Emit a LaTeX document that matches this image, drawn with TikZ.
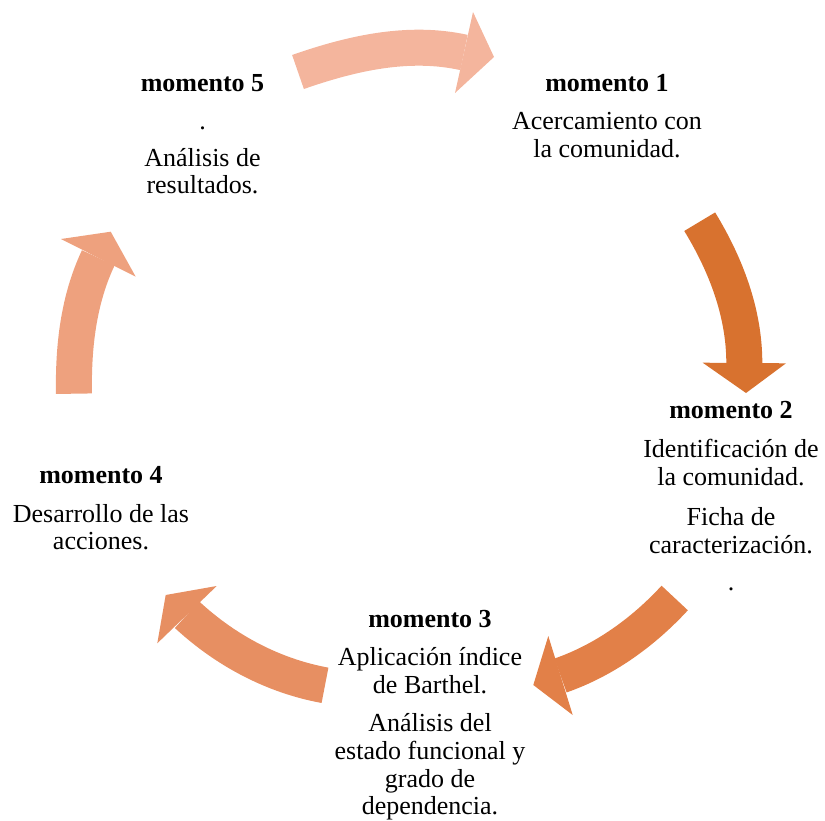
\documentclass[tikz,border=0pt]{standalone}
\usepackage{fontspec}
\setmainfont{Liberation Serif}
\definecolor{cA}{HTML}{F4B59D}
\definecolor{cB}{HTML}{D8722F}
\definecolor{cC}{HTML}{E28048}
\definecolor{cD}{HTML}{E78F62}
\definecolor{cE}{HTML}{EEA17E}
\tikzset{
  txt/.style={anchor=base,inner sep=0pt,font=\fontsize{26}{28}\selectfont},
  ttl/.style={txt,font=\fontsize{26}{28}\selectfont\bfseries},
  shaft/.style={line width=36pt,line cap=butt},
  arrhead/.style={draw=none}
}
\begin{document}
\begin{tikzpicture}[x=1pt,y=-1pt]
\useasboundingbox (0,0) rectangle (825,821);
% arrow 1 (top)
\coordinate (a1s) at (298,72); \coordinate (a1b) at (464,52.5);
\coordinate (a1l) at (473,12); \coordinate (a1t) at (494,57); \coordinate (a1r) at (455,93);
\draw[shaft,cA] (a1s) .. controls (351.4,53.3) and (408.6,40.2) .. (a1b);
\fill[arrhead,cA] (a1l) -- (a1t) -- (a1r) -- cycle;
% arrow 2 (right)
\coordinate (a2s) at (699.7,221.7); \coordinate (a2b) at (744.3,363);
\coordinate (a2l) at (702.7,362.7); \coordinate (a2t) at (746,393); \coordinate (a2r) at (786,363.3);
\draw[shaft,cB] (a2s) .. controls (725.9,264.7) and (744.3,312.7) .. (a2b);
\fill[arrhead,cB] (a2l) -- (a2t) -- (a2r) -- cycle;
% arrow 3 (bottom right)
\coordinate (a3s) at (674.7,598); \coordinate (a3b) at (560.5,675.5);
\coordinate (a3l) at (548.3,636); \coordinate (a3t) at (533.3,685); \coordinate (a3r) at (572.7,715);
\draw[shaft,cC] (a3s) .. controls (643,632.3) and (604.6,660.1) .. (a3b);
\fill[arrhead,cC] (a3l) -- (a3t) -- (a3r) -- cycle;
% arrow 4 (bottom left)
\coordinate (a4s) at (325,685.3); \coordinate (a4b) at (187,614.7);
\coordinate (a4l) at (216.7,586); \coordinate (a4t) at (165.7,595); \coordinate (a4r) at (157.3,643.3);
\draw[shaft,cD] (a4s) .. controls (273.1,675.8) and (225.7,650.5) .. (a4b);
\fill[arrhead,cD] (a4l) -- (a4t) -- (a4r) -- cycle;
% arrow 5 (left)
\coordinate (a5s) at (74,393.7); \coordinate (a5b) at (98.3,257.8);
\coordinate (a5l) at (61,239); \coordinate (a5t) at (110.7,231.7); \coordinate (a5r) at (135.7,276.7);
\draw[shaft,cE] (a5s) .. controls (73.1,347.3) and (78.4,299.7) .. (a5b);
\fill[arrhead,cE] (a5l) -- (a5t) -- (a5r) -- cycle;
% block 1
\node[ttl] (m1) at (607,92) {momento 1};
\node[txt] (m1a) at (607,130) {Acercamiento con};
\node[txt] (m1b) at (607,158) {la comunidad.};
% block 2
\node[ttl] (m2) at (731,418) {momento 2};
\node[txt] (m2a) at (731,457) {Identificación de};
\node[txt] (m2b) at (731,485) {la comunidad.};
\node[txt] (m2c) at (731,525) {Ficha de};
\node[txt] (m2d) at (731,553) {caracterización.};
\node[txt] (m2e) at (731,590) {.};
% block 3
\node[ttl] (m3) at (430,627) {momento 3};
\node[txt] (m3a) at (430,665) {Aplicación índice};
\node[txt] (m3b) at (430,693) {de Barthel.};
\node[txt] (m3c) at (430,731) {Análisis del};
\node[txt] (m3d) at (430,759) {estado funcional y};
\node[txt] (m3e) at (430,787) {grado de};
\node[txt] (m3f) at (430,814) {dependencia.};
% block 4
\node[ttl] (m4) at (101,483) {momento 4};
\node[txt] (m4a) at (101,522) {Desarrollo de las};
\node[txt] (m4b) at (101,549) {acciones.};
% block 5
\node[ttl] (m5) at (202.5,92) {momento 5};
\node[txt] (m5a) at (202.5,130) {.};
\node[txt] (m5b) at (202.5,167) {Análisis de};
\node[txt] (m5c) at (202.5,194) {resultados.};
\end{tikzpicture}
\end{document}
